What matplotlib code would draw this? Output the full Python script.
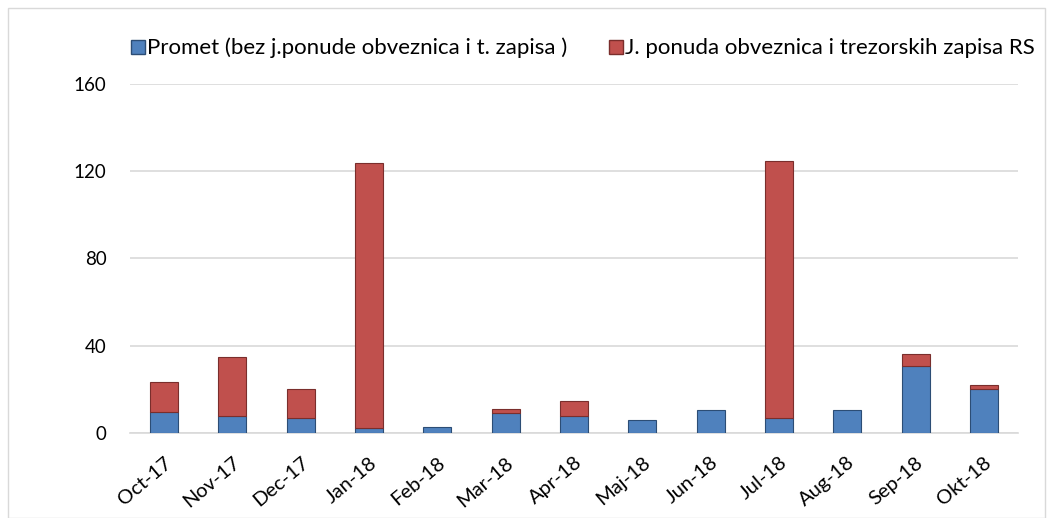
import matplotlib
matplotlib.use("Agg")
import matplotlib.pyplot as plt
from matplotlib.patches import Rectangle
from matplotlib.lines import Line2D

categories = ["Oct-17", "Nov-17", "Dec-17", "Jan-18", "Feb-18", "Mar-18", "Apr-18",
              "Maj-18", "Jun-18", "Jul-18", "Aug-18", "Sep-18", "Okt-18"]
promet = [9.8, 7.9, 6.7, 2.1, 2.7, 9.3, 7.9, 6.0, 10.6, 7.0, 10.6, 30.9, 20.2]
ponuda = [13.6, 27.0, 13.5, 121.6, 0.0, 1.6, 6.8, 0.0, 0.0, 117.9, 0.0, 5.3, 1.7]
yticks = [0, 40, 80, 120, 160]
series_names = ["Promet (bez j.ponude obveznica i t. zapisa )",
                "J. ponuda obveznica i trezorskih zapisa RS"]

plt.rcParams['font.family'] = ['Lato', 'DejaVu Sans']

fig = plt.figure(figsize=(10.52, 5.18), dpi=100)
ax = fig.add_axes([0.1236, 0.164, 0.8441, 0.674])

blue = "#4F81BD"
red = "#C0504D"
x = range(len(categories))
w = 0.41
ax.bar(x, promet, width=w, color=blue, edgecolor="#2C4D75", linewidth=0.8, zorder=3)
ax.bar(x, ponuda, width=w, bottom=promet, color=red, edgecolor="#7A2E2C",
       linewidth=[0.8 if v > 0 else 0 for v in ponuda], zorder=3)

ax.set_xlim(-0.5, len(categories) - 0.5)
ax.set_ylim(0, 160)
ax.set_yticks(yticks)
ax.set_xticks(list(x))
ax.set_xticklabels(categories, rotation=40, ha="right", rotation_mode="anchor", fontsize=14.5)
ax.tick_params(axis="y", length=0, pad=17, labelsize=13.5)
ax.tick_params(axis="x", length=0, pad=15)
ax.yaxis.grid(True, color="#D9D9D9", linewidth=1.2, zorder=0)
ax.set_axisbelow(True)
for s in ["top", "right", "left"]:
    ax.spines[s].set_visible(False)
ax.spines["bottom"].set_color("#D9D9D9")
ax.spines["bottom"].set_linewidth(1.2)

handles = [Line2D([], [], marker="s", linestyle="none", markersize=10,
                  markerfacecolor=blue, markeredgecolor="#2C4D75"),
           Line2D([], [], marker="s", linestyle="none", markersize=10,
                  markerfacecolor=red, markeredgecolor="#7A2E2C")]
fig.legend(handles, series_names, loc="center", bbox_to_anchor=(0.553, 0.907), ncol=2,
           frameon=False, fontsize=16, handletextpad=0.0, columnspacing=1.8,
           handlelength=0.8)

fig.patches.append(Rectangle((0.008, 0.0), 0.985, 0.984, transform=fig.transFigure,
                             fill=False, edgecolor="#D9D9D9", linewidth=1))

fig.savefig("out.png", dpi=100)
